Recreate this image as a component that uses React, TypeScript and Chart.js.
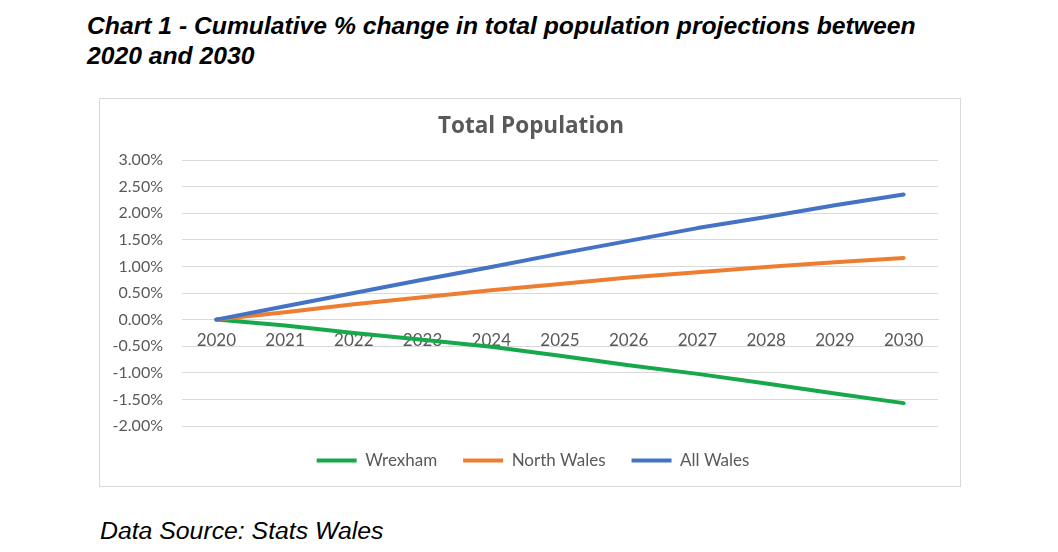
import React, { useEffect, useRef } from 'react';
import { Chart, registerables } from 'chart.js';

Chart.register(...registerables);

const years = ['2020', '2021', '2022', '2023', '2024', '2025', '2026', '2027', '2028', '2029', '2030'];
const wrexham = [0, -0.11, -0.25, -0.38, -0.51, -0.68, -0.86, -1.02, -1.2, -1.39, -1.57];
const northWales = [0, 0.14, 0.29, 0.42, 0.55, 0.67, 0.79, 0.89, 0.99, 1.08, 1.16];
const allWales = [0, 0.25, 0.5, 0.75, 0.99, 1.24, 1.48, 1.72, 1.93, 2.15, 2.35];
const seriesNames = ['Wrexham', 'North Wales', 'All Wales'];
const seriesColors = ['#17a84c', '#ed7d31', '#4472c4'];
const yMin = -2;
const yMax = 3;
const yStep = 0.5;

const chartTitle = 'Total Population';
const heading1 = 'Chart 1 - Cumulative % change in total population projections between';
const heading2 = '2020 and 2030';
const sourceText = 'Data Source: Stats Wales';

const FONT = 'Lato, "Open Sans", sans-serif';
const TXT = '#595959';
const GRID = '#d9d9d9';

const boxShift = {
  id: 'boxShift',
  afterLayout(chart: any) {
    const lg = chart.legend;
    if (lg) {
      lg.left += 14;
      lg.right += 14;
    }
    const tb = chart.titleBlock;
    if (tb) {
      tb.left += 12;
      tb.right += 12;
    }
  },
};

export default function App() {
  const ref = useRef<HTMLCanvasElement | null>(null);

  useEffect(() => {
    document.body.style.margin = '0';
    const canvas = ref.current;
    if (!canvas) return;
    const allSeries = [wrexham, northWales, allWales];
    const chart = new Chart(canvas, {
      type: 'line',
      data: {
        labels: years,
        datasets: allSeries.map((d, i) => ({
          label: seriesNames[i],
          data: d,
          borderColor: seriesColors[i],
          backgroundColor: seriesColors[i],
          borderWidth: 4,
          borderCapStyle: 'round',
          borderJoinStyle: 'round',
          pointRadius: 0,
          pointHoverRadius: 0,
          pointStyle: 'line',
          tension: 0,
          order: 2 - i,
        })),
      },
      plugins: [boxShift],
      options: {
        responsive: false,
        animation: false,
        maintainAspectRatio: false,
        layout: { padding: { left: 0, right: 22, top: 10, bottom: 7 } },
        plugins: {
          title: {
            display: true,
            text: chartTitle,
            color: TXT,
            font: { family: '"Open Sans", Lato, sans-serif', size: 22.5, weight: 'bold' },
            padding: { top: 4, bottom: 20 },
          },
          legend: {
            position: 'bottom',
            labels: {
              usePointStyle: true,
              pointStyleWidth: 40,
              boxHeight: 4,
              color: TXT,
              padding: 26,
              font: { family: FONT, size: 17 },
              sort: (a: any, b: any) => a.datasetIndex - b.datasetIndex,
            },
          },
          tooltip: { enabled: false },
        },
        scales: {
          x: {
            type: 'category',
            position: { y: 0 } as any,
            offset: true,
            grid: { display: false, drawTicks: false },
            border: { display: true, color: GRID, width: 1 },
            ticks: { color: TXT, font: { family: FONT, size: 17 }, padding: 11, maxRotation: 0 },
          },
          y: {
            min: yMin,
            max: yMax,
            grid: { color: GRID, lineWidth: 1, drawTicks: false },
            border: { display: false },
            ticks: {
              stepSize: yStep,
              color: TXT,
              font: { family: FONT, size: 16 },
              padding: 19,
              callback: (v: any) => Number(v).toFixed(2) + '%',
            },
            afterFit: (s: any) => {
              s.width = 82;
            },
          },
        },
      },
    } as any);
    return () => chart.destroy();
  }, []);

  return (
    <div style={{ position: 'relative', width: 1058, height: 552, background: '#fff', overflow: 'hidden' }}>
      <div
        style={{
          position: 'absolute',
          left: 87,
          top: 11,
          fontFamily: '"Liberation Sans", Arial, sans-serif',
          fontWeight: 'bold',
          fontStyle: 'italic',
          fontSize: 24.7,
          lineHeight: '29.5px',
          color: '#000',
          whiteSpace: 'nowrap',
        }}
      >
        {heading1}
        <br />
        {heading2}
      </div>
      <div
        style={{
          position: 'absolute',
          left: 99,
          top: 98,
          width: 862,
          height: 389,
          boxSizing: 'border-box',
          border: '1px solid #d9d9d9',
          background: '#fff',
        }}
      >
        <canvas ref={ref} width={860} height={387} style={{ display: 'block' }} />
      </div>
      <div
        style={{
          position: 'absolute',
          left: 100,
          top: 518,
          fontFamily: '"Liberation Sans", Arial, sans-serif',
          fontStyle: 'italic',
          fontSize: 24.8,
          lineHeight: '26px',
          color: '#000',
          whiteSpace: 'nowrap',
        }}
      >
        {sourceText}
      </div>
    </div>
  );
}
